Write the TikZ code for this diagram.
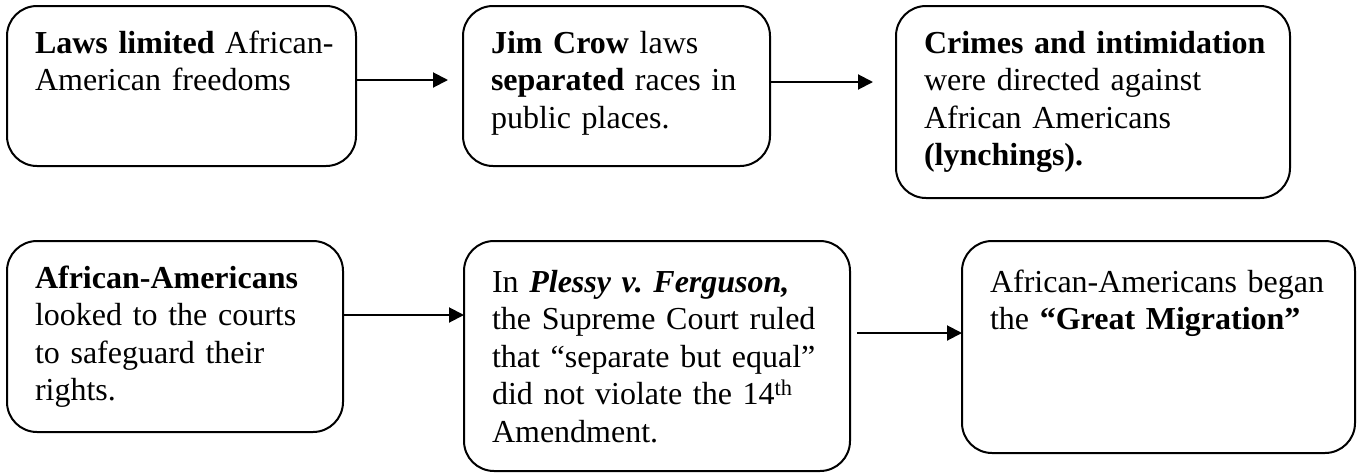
\documentclass[tikz,border=0pt]{standalone}
\usepackage{fontspec}
\setmainfont{Liberation Serif}
\usetikzlibrary{arrows.meta}
\frenchspacing
\begin{document}
\begin{tikzpicture}[x=1pt,y=-1pt,-{Triangle[length=15pt,width=15pt]},line width=2pt]
\useasboundingbox (0,0) rectangle (1363,472);
\tikzstyle{every node} = [draw, rounded corners=30pt, anchor=north west, align=left, inner xsep=28pt, inner ysep=0pt, outer sep=0pt, font=\fontsize{32}{37.5}\selectfont]
\node[text width=293pt, text height=47pt, text depth=113pt] (1) at (7,6) {\mbox{\textbf{Laws limited} African-}\\\mbox{American freedoms}};
\node[text width=251pt, text height=47pt, text depth=113pt] (2) at (463,6) {\mbox{\textbf{Jim Crow} laws}\\\mbox{\textbf{separated} races in}\\\mbox{public places.}};
\node[text width=338pt, text height=47pt, text depth=145pt] (3) at (896,6) {\mbox{\textbf{Crimes and intimidation}}\\\mbox{were directed against}\\\mbox{African Americans}\\\mbox{\textbf{(lynchings).}}};
\node[text width=280pt, text height=47pt, text depth=144pt] (4) at (7,241) {\mbox{\textbf{African-Americans}}\\\mbox{looked to the courts}\\\mbox{to safeguard their}\\\mbox{rights.}};
\node[text width=330pt, text height=51pt, text depth=179pt] (5) at (464,241) {\mbox{In \textbf{\textit{Plessy v.\ Ferguson,}}}\\\mbox{the Supreme Court ruled}\\\mbox{that “separate but equal”}\\\mbox{did not violate the 14\textsuperscript{th}}\\\mbox{Amendment.}};
\node[text width=337pt, text height=51pt, text depth=161pt] (6) at (962,241) {\mbox{African-Americans began}\\\mbox{the \textbf{“Great Migration”}}};
\tikzstyle{every node} = []
\draw ([yshift=6pt]1.east) -- ([xshift=-15pt,yshift=6pt]2.west);
\draw ([yshift=4pt]2.east) -- ([xshift=-23pt,yshift=4pt]2.east -| 3.west);
\draw ([yshift=21.5pt]4.east) -- ([yshift=21.5pt]4.east -| 5.west);
\draw ([xshift=7pt,yshift=23pt]5.east) -- ([yshift=23pt]5.east -| 6.west);
\end{tikzpicture}
\end{document}
